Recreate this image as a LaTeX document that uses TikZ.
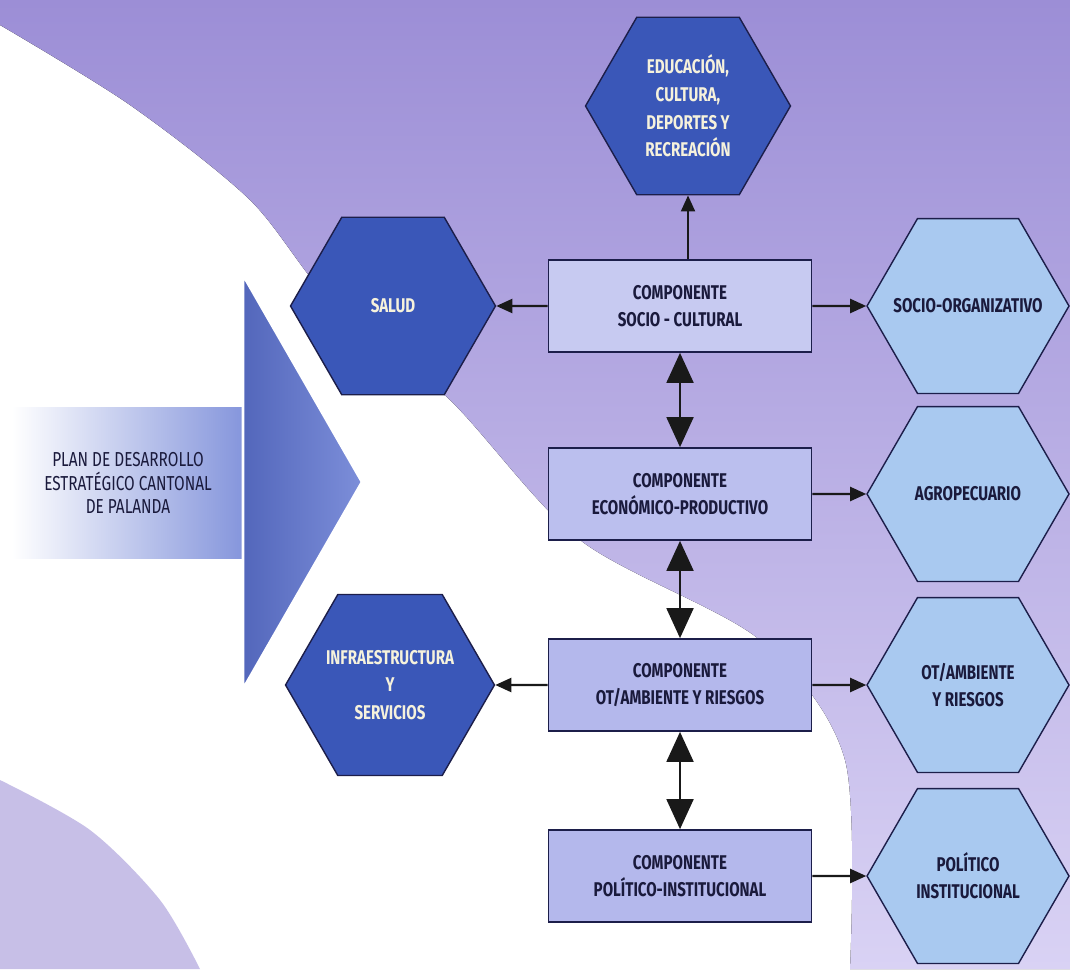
\documentclass[tikz,border=0pt]{standalone}
\usepackage{fontspec}
\setmainfont{Fira Sans}[FakeStretch=0.76]
\usepackage{tikz}
\usetikzlibrary{shapes.geometric, arrows.meta, positioning}

\definecolor{bgpurple}{HTML}{9C8ED6}
\definecolor{bglight}{HTML}{D9D2F4}
\definecolor{boxfill}{HTML}{B4B8EC}
\definecolor{hexdark}{HTML}{3A57B8}
\definecolor{hexlight}{HTML}{A9C9F0}
\definecolor{navy}{HTML}{1C1E4A}
\definecolor{textdark}{HTML}{1A1A3C}
\definecolor{hextext}{HTML}{F6F2DC}
\definecolor{triblue}{HTML}{5C72D0}

\begin{document}
\begin{tikzpicture}[
 x=0.02cm, y=-0.02cm,
 font=\bfseries\fontsize{11.3}{15.5}\selectfont,
 comp/.style={rectangle, draw=navy, line width=1pt, fill=boxfill, minimum width=5.26cm, minimum height=1.84cm, align=center, text=textdark},
 darkhex/.style={regular polygon, regular polygon sides=6, minimum size=4.1cm, inner sep=0pt, draw=navy, line width=0.8pt, fill=hexdark, text=hextext, align=center},
 lighthex/.style={regular polygon, regular polygon sides=6, minimum size=4.04cm, inner sep=0pt, draw=navy, line width=0.8pt, fill=hexlight, text=textdark, align=center},
 link/.style={-{Triangle[length=0.32cm,width=0.28cm]}, line width=1.2pt, draw=black!90},
 both/.style={{Triangle[length=0.6cm,width=0.54cm]}-{Triangle[length=0.6cm,width=0.54cm]}, line width=1.1pt, draw=black!90}
]
 % background: purple sky on top and right, white band on the left
 \useasboundingbox (0,0) rectangle (1070,969);
 \fill[white] (0,0) rectangle (1070,969);
 \fill[top color=bgpurple, bottom color=bglight]
   plot[smooth] coordinates {(0,25) (130,105) (250,200) (330,300) (450,400) (580,540) (760,640) (845,760) (850,969)}
   -- (1070,969) -- (1070,0) -- (0,0) -- cycle;
 \fill[bgpurple!70, opacity=0.8]
   plot[smooth] coordinates {(0,780) (90,830) (160,900) (200,969)} -- (0,969) -- cycle;

 % plan box and the big pointer
 \node[left color=white, right color=triblue!75, minimum width=4.64cm, minimum height=3.04cm,
   inner sep=0pt, align=center, text=textdark, font=\fontsize{11.5}{13.5}\selectfont] (plan) at (128,483)
   {PLAN DE DESARROLLO\\ESTRATÉGICO CANTONAL\\DE PALANDA};
 \fill[left color=triblue!90!black, right color=triblue!80, draw=white, line width=1.5pt]
   (243,275) -- (362,482) -- (243,689) -- cycle;

 % components
 \node[comp, fill=boxfill!75] (sc) at (680,306) {COMPONENTE\\SOCIO - CULTURAL};
 \node[comp, fill=boxfill!90] (ep) at (680,494) {COMPONENTE\\ECONÓMICO-PRODUCTIVO};
 \node[comp] (ot) at (680,685) {COMPONENTE\\OT/AMBIENTE Y RIESGOS};
 \node[comp] (pi) at (680,876) {COMPONENTE\\POLÍTICO-INSTITUCIONAL};

 % dark hexagons
 \node[darkhex, font=\bfseries\fontsize{11.3}{15.7}\selectfont] (edu) at (688,106) {EDUCACIÓN,\\CULTURA,\\DEPORTES Y\\RECREACIÓN};
 \node[darkhex] (sal) at (393,306) {SALUD};
 \node[darkhex] (inf) at (390,685) {INFRAESTRUCTURA\\Y\\SERVICIOS};

 % light hexagons
 \node[lighthex] (soc) at (968,306) {\makebox[2cm]{SOCIO-ORGANIZATIVO}};
 \node[lighthex] (agr) at (968,494) {AGROPECUARIO};
 \node[lighthex] (oth) at (968,685) {OT/AMBIENTE\\Y RIESGOS};
 \node[lighthex] (pol) at (968,876) {POLÍTICO\\INSTITUCIONAL};

 % connectors
 \draw[link] (sc.north -| edu.south) -- (edu.south);
 \draw[link] (sc.west) -- (sal.east);
 \draw[link] (sc.east) -- (soc.west);
 \draw[link] (ep.east) -- (agr.west);
 \draw[link] (ot.west) -- (inf.east);
 \draw[link] (ot.east) -- (oth.west);
 \draw[link] (pi.east) -- (pol.west);
 \draw[both] (sc.south) -- (ep.north);
 \draw[both] (ep.south) -- (ot.north);
 \draw[both] (ot.south) -- (pi.north);
\end{tikzpicture}
\end{document}
